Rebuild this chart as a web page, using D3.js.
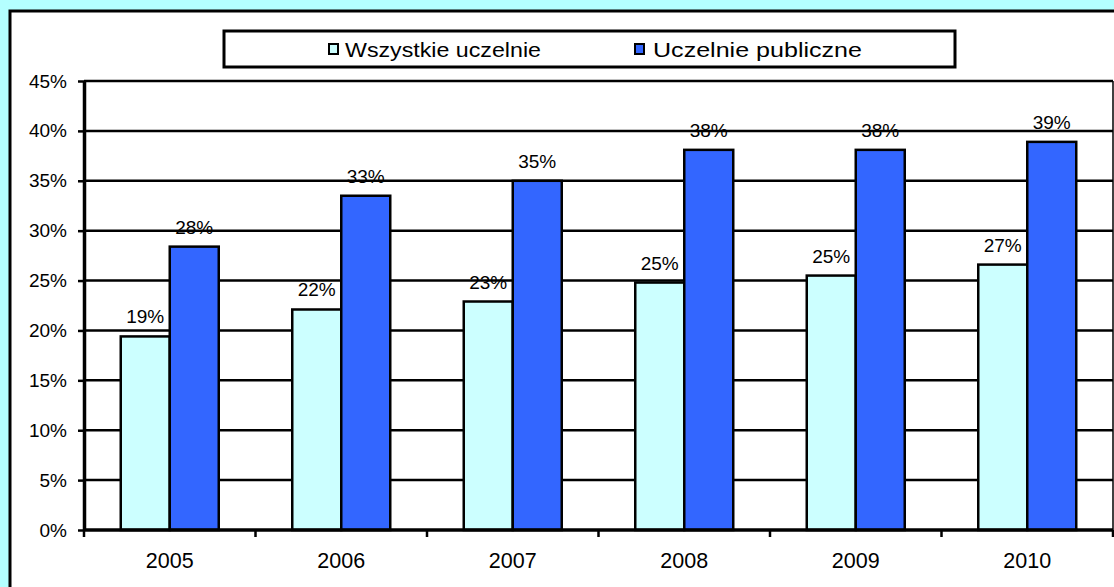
<!DOCTYPE html>
<html>
<head>
<meta charset="utf-8">
<script src="https://cdn.jsdelivr.net/npm/d3@7"></script>
<style>
  body { margin: 0; background: #b4ffff; }
  svg { display: block; font-family: "Liberation Sans", Arial, sans-serif; }
</style>
</head>
<body>
<div id="chart"></div>
<script>
// data
var years = ["2005", "2006", "2007", "2008", "2009", "2010"];
var seriesNames = ["Wszystkie uczelnie", "Uczelnie publiczne"];
var allValues = [19.4, 22.1, 22.9, 24.8, 25.5, 26.6];
var publicValues = [28.4, 33.5, 35.0, 38.1, 38.1, 38.9];
var allLabels = ["19%", "22%", "23%", "25%", "25%", "27%"];
var publicLabels = ["28%", "33%", "35%", "38%", "38%", "39%"];
var yTicks = [0, 5, 10, 15, 20, 25, 30, 35, 40, 45];
var colors = ["#ccffff", "#3366ff"];

var W = 1114, H = 587;
var margin = { left: 84, right: 1, top: 81, bottom: 57 };
var width = W - margin.left - margin.right;
var height = H - margin.top - margin.bottom;

var svg = d3.select("#chart").append("svg")
    .attr("width", W)
    .attr("height", H);

svg.append("rect")
    .attr("width", W).attr("height", H)
    .attr("fill", "#b4ffff");

// white panel
svg.append("rect")
    .attr("x", 10).attr("y", 11)
    .attr("width", W + 20).attr("height", H + 20)
    .attr("fill", "#fff")
    .attr("stroke", "#000")
    .attr("stroke-width", 3);

var g = svg.append("g")
    .attr("transform", "translate(" + margin.left + "," + margin.top + ")");

var x0 = d3.scaleBand().domain(years).range([0, width]).padding(0);
var x1 = d3.scaleBand().domain([0, 1]).range([0, x0.bandwidth()])
    .paddingInner(0).paddingOuter(0.75);
var y = d3.scaleLinear().domain([0, 45]).range([height, 0]);

var rows = years.map(function(yr, i){
    return { year: yr, vals: [
        { s: 0, v: allValues[i], label: allLabels[i] },
        { s: 1, v: publicValues[i], label: publicLabels[i] }
    ]};
});

// value labels (drawn under the gridlines, like the original)
var groups = g.selectAll(".grp").data(rows).enter().append("g")
    .attr("transform", function(d){ return "translate(" + x0(d.year) + ",0)"; });

groups.selectAll("text").data(function(d){ return d.vals; }).enter().append("text")
    .attr("x", function(d){ return x1(d.s) + x1.bandwidth() / 2; })
    .attr("y", function(d){ return y(d.v) - 13; })
    .attr("text-anchor", "middle")
    .attr("font-size", 19)
    .attr("fill", "#000")
    .text(function(d){ return d.label; });

// gridlines
g.selectAll(".grid").data(yTicks.slice(1)).enter().append("line")
    .attr("x1", 0).attr("x2", width)
    .attr("y1", function(d){ return y(d); })
    .attr("y2", function(d){ return y(d); })
    .attr("stroke", "#000")
    .attr("stroke-width", 2.5);

// right border of plot area
g.append("line")
    .attr("x1", width).attr("x2", width)
    .attr("y1", 0).attr("y2", height)
    .attr("stroke", "#000").attr("stroke-width", 1.5);

// bars
var barGroups = g.selectAll(".bars").data(rows).enter().append("g")
    .attr("transform", function(d){ return "translate(" + x0(d.year) + ",0)"; });

barGroups.selectAll("rect").data(function(d){ return d.vals; }).enter().append("rect")
    .attr("x", function(d){ return x1(d.s); })
    .attr("y", function(d){ return y(d.v); })
    .attr("width", x1.bandwidth())
    .attr("height", function(d){ return height - y(d.v); })
    .attr("fill", function(d){ return colors[d.s]; })
    .attr("stroke", "#000")
    .attr("stroke-width", 2.5);

// y axis
var yAxis = g.append("g")
    .call(d3.axisLeft(y).tickValues(yTicks).tickSize(6).tickSizeOuter(0)
        .tickFormat(function(d){ return d + "%"; }));
yAxis.select(".domain").attr("stroke", "#000").attr("stroke-width", 3.5);
yAxis.selectAll(".tick line").attr("stroke", "#000").attr("stroke-width", 2.5);
yAxis.selectAll(".tick text")
    .attr("font-size", 19).attr("font-family", "Liberation Sans, Arial, sans-serif")
    .attr("fill", "#000").attr("x", -17);

// x axis with ticks at category boundaries
var xAxisG = g.append("g").attr("transform", "translate(0," + height + ")");
xAxisG.append("line")
    .attr("x1", 0).attr("x2", width)
    .attr("stroke", "#000").attr("stroke-width", 3.5);
var bounds = years.map(function(d){ return x0(d); }).concat([width]);
xAxisG.selectAll(".xt").data(bounds).enter().append("line")
    .attr("x1", function(d){ return d; }).attr("x2", function(d){ return d; })
    .attr("y1", 0).attr("y2", 7)
    .attr("stroke", "#000").attr("stroke-width", 2.5);
xAxisG.selectAll(".xl").data(years).enter().append("text")
    .attr("x", function(d){ return x0(d) + x0.bandwidth() / 2; })
    .attr("y", 38)
    .attr("text-anchor", "middle")
    .attr("font-size", 21.5)
    .attr("fill", "#000")
    .text(function(d){ return d; });

// legend
var leg = svg.append("g");
leg.append("rect")
    .attr("x", 224).attr("y", 31)
    .attr("width", 731).attr("height", 36)
    .attr("fill", "#fff").attr("stroke", "#000").attr("stroke-width", 3);

var legItems = [
    { sq: 329, tx: 345, len: 196 },
    { sq: 635, tx: 653, len: 209 }
];
legItems.forEach(function(it, i){
    leg.append("rect")
        .attr("x", it.sq).attr("y", 44)
        .attr("width", 9).attr("height", 10)
        .attr("fill", colors[i]).attr("stroke", "#000").attr("stroke-width", 2);
    leg.append("text")
        .attr("x", it.tx).attr("y", 57)
        .attr("font-size", 21)
        .attr("textLength", it.len)
        .attr("lengthAdjust", "spacingAndGlyphs")
        .attr("fill", "#000")
        .text(seriesNames[i]);
});
</script>
</body>
</html>
